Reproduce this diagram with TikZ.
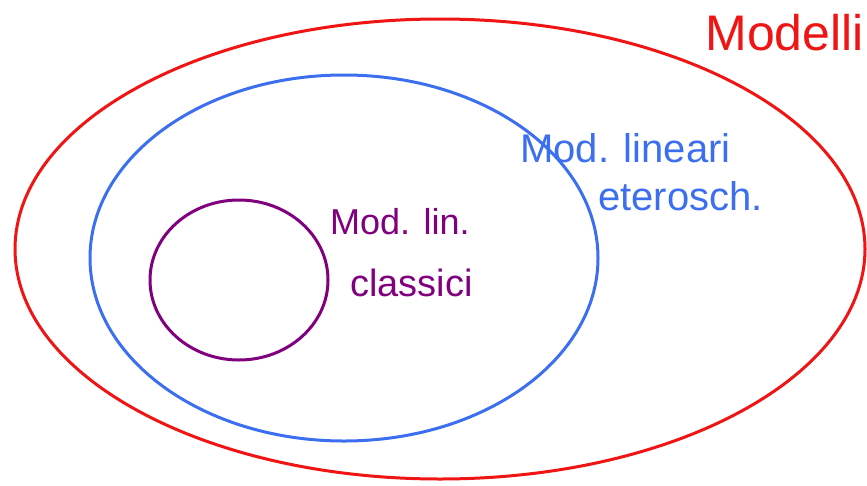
\documentclass[tikz,border=0pt]{standalone}
\usepackage{fontspec}
\setmainfont{Liberation Sans}
\definecolor{rd}{RGB}{240,20,20}
\definecolor{bl}{RGB}{60,110,240}
\definecolor{pu}{RGB}{128,0,128}
\tikzset{ring/.style={line width=3pt},
  lbl/.style={inner sep=0pt, anchor=west}}
\begin{document}
\begin{tikzpicture}[x=1pt,y=-1pt]
\useasboundingbox (0,0) rectangle (867,485);
\clip (0,0) rectangle (867,485);
\draw[ring, rd] (440,249) ellipse [x radius=425, y radius=230];
\draw[ring, bl] (344,258) ellipse [x radius=254, y radius=183];
\draw[ring, pu] (239,280) ellipse [x radius=89, y radius=80];
\node[lbl, rd, anchor=east, font=\fontsize{50}{50}\selectfont] (m) at (864,33) {Modelli};
\node[lbl, bl, font=\fontsize{40}{42}\selectfont] (b1) at (520,148) {Mod. lineari};
\node[lbl, bl, font=\fontsize{40}{42}\selectfont] (b2) at (598,196) {eterosch.};
\node[lbl, pu, font=\fontsize{36}{38}\selectfont] (p1) at (330,222) {Mod. lin.};
\node[lbl, pu, font=\fontsize{38}{38}\selectfont] (p2) at (350,283) {classici};
\end{tikzpicture}
\end{document}
